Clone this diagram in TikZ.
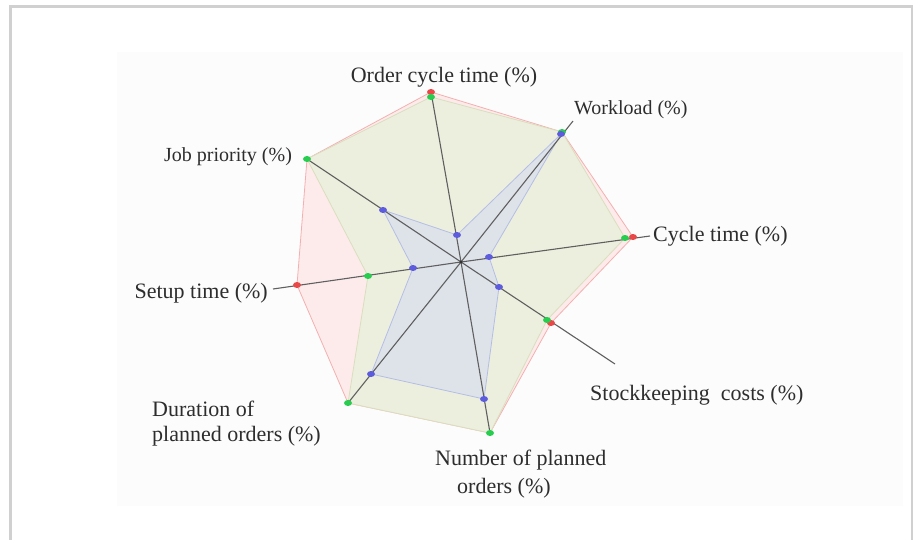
\documentclass[tikz,border=0pt]{standalone}
\usepackage{fontspec}
\setmainfont{Liberation Serif}
\definecolor{framegray}{RGB}{208,208,208}
\definecolor{bgfaint}{RGB}{252,252,252}
\definecolor{pinkfill}{RGB}{253,235,235}
\definecolor{pinkedge}{RGB}{244,176,176}
\definecolor{olivefill}{RGB}{237,239,222}
\definecolor{oliveedge}{RGB}{218,222,190}
\definecolor{bluefill}{RGB}{222,227,234}
\definecolor{blueedge}{RGB}{180,190,228}
\definecolor{axisgray}{RGB}{95,95,95}
\definecolor{ptgreen}{RGB}{40,205,80}
\definecolor{ptred}{RGB}{232,72,72}
\definecolor{ptblue}{RGB}{92,92,220}
\definecolor{txt}{RGB}{45,45,45}
\tikzset{
  axisline/.style={draw=axisgray, line width=1.1pt},
  lbl/.style={inner sep=0pt, text=txt, font=\fontsize{22}{24}\selectfont},
  lblsmall/.style={inner sep=0pt, text=txt, font=\fontsize{20}{22}\selectfont},
}
\newcommand{\dotg}[1]{\fill[ptgreen] (#1) ellipse [x radius=4pt, y radius=3pt];}
\newcommand{\dotr}[1]{\fill[ptred] (#1) ellipse [x radius=4pt, y radius=3pt];}
\newcommand{\dotb}[1]{\fill[ptblue] (#1) ellipse [x radius=4pt, y radius=3pt];}
\begin{document}
\begin{tikzpicture}[x=1pt,y=-1pt]
\useasboundingbox (0,0) rectangle (917,540);
\fill[white] (0,0) rectangle (917,540);
% faint background panel
\fill[bgfaint] (117,52) rectangle (903,506);
% frame (open at bottom)
\draw[framegray, line width=2.5pt] (10.5,545) -- (10.5,6.3) -- (912,6.3) -- (912,545);

% centre and axis ends
\coordinate (c) at (461,262);
\coordinate (eOrder) at (431,92);
\coordinate (eWork) at (573,121);
\coordinate (eCycle) at (650,236);
\coordinate (eStock) at (615,364);
\coordinate (eNum) at (490,433);
\coordinate (eDur) at (348,403);
\coordinate (eSetup) at (273,289);
\coordinate (eJob) at (307,159);

% red series
\coordinate (rOrder) at (431,92);
\coordinate (rWork) at (562,132);
\coordinate (rCycle) at (633,237);
\coordinate (rStock) at (551,323);
\coordinate (rNum) at (490,433);
\coordinate (rDur) at (348,403);
\coordinate (rSetup) at (297,285);
\coordinate (rJob) at (307,159);
% green series
\coordinate (gOrder) at (431,97);
\coordinate (gWork) at (562,132);
\coordinate (gCycle) at (625,238);
\coordinate (gStock) at (547,320);
\coordinate (gNum) at (490,433);
\coordinate (gDur) at (348,403);
\coordinate (gSetup) at (368,276);
\coordinate (gJob) at (307,159);
% blue series
\coordinate (bOrder) at (457,235);
\coordinate (bWork) at (561,134);
\coordinate (bCycle) at (489,257);
\coordinate (bStock) at (499,287);
\coordinate (bNum) at (484,399);
\coordinate (bDur) at (371,374);
\coordinate (bSetup) at (413,268);
\coordinate (bJob) at (383,210);

% polygons
\filldraw[fill=pinkfill, draw=pinkedge, line width=0.8pt]
  (rOrder) -- (rWork) -- (rCycle) -- (rStock) -- (rNum) -- (rDur) -- (rSetup) -- (rJob) -- cycle;
\filldraw[fill=olivefill, draw=oliveedge, line width=0.8pt]
  (gOrder) -- (gWork) -- (gCycle) -- (gStock) -- (gNum) -- (gDur) -- (gSetup) -- (gJob) -- cycle;
\filldraw[fill=bluefill, draw=blueedge, line width=0.8pt]
  (bOrder) -- (bWork) -- (bCycle) -- (bStock) -- (bNum) -- (bDur) -- (bSetup) -- (bJob) -- cycle;

% axes
\foreach \e in {eOrder,eWork,eCycle,eStock,eNum,eDur,eSetup,eJob}
  \draw[axisline] (c) -- (\e);
\fill[black!80] (c) circle (1.6pt);

% points
\dotr{rOrder} \dotr{rCycle} \dotr{rStock} \dotr{rSetup}
\dotg{gOrder} \dotg{gWork} \dotg{gCycle} \dotg{gStock} \dotg{gNum} \dotg{gDur} \dotg{gSetup} \dotg{gJob}
\dotb{bOrder} \dotb{bWork} \dotb{bCycle} \dotb{bStock} \dotb{bNum} \dotb{bDur} \dotb{bSetup} \dotb{bJob}

% labels
\node[lbl, anchor=base] (lOrder) at (444,83) {Order cycle time (\%)};
\node[lblsmall, anchor=base west] (lWork) at (574,115) {Workload (\%)};
\node[lbl, anchor=base west] (lCycle) at (653,241) {Cycle time (\%)};
\node[lbl, anchor=base west] (lStock) at (590,400) {Stockkeeping\ \ costs (\%)};
\node[lbl, anchor=base west] (lNum1) at (435,465) {Number of planned};
\node[lbl, anchor=base west] (lNum2) at (457,493) {orders (\%)};
\node[lbl, anchor=base west] (lDur1) at (152,416) {Duration of};
\node[lbl, anchor=base west] (lDur2) at (152,441) {planned orders (\%)};
\node[lbl, anchor=base east] (lSetup) at (268,298) {Setup time (\%)};
\node[lblsmall, anchor=base west] (lJob) at (164,161) {Job priority (\%)};
\end{tikzpicture}
\end{document}
